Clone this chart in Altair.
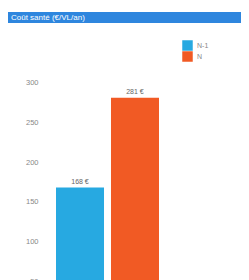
import altair as alt
import pandas as pd

periods = ["N-1", "N"]
costs = [168, 281]
labels = ["168 €", "281 €"]
colors = ["#27A9E1", "#F15A24"]
title_text = "Coût santé (€/VL/an)"

df = pd.DataFrame({"period": periods, "cost": costs, "label": labels})

ymax = 340
x = alt.X("period:N", sort=periods, axis=None,
          scale=alt.Scale(paddingInner=0.127, paddingOuter=0))
y = alt.Y("cost:Q", scale=alt.Scale(domain=[0, ymax], nice=False),
          axis=alt.Axis(values=[50, 100, 150, 200, 250, 300], title=None, domain=False,
                        ticks=False, grid=False, labelColor="#888888", labelFontSize=7.5,
                        labelPadding=18, labelFont="Arial"))

bars = alt.Chart(df).mark_bar().encode(
    x=x, y=y,
    color=alt.Color("period:N", sort=periods,
                    scale=alt.Scale(domain=periods, range=colors),
                    legend=alt.Legend(title=None, orient="none", legendX=126, legendY=-11,
                                      symbolType="square", symbolSize=110, symbolStrokeWidth=0,
                                      rowPadding=0, labelFontSize=7, labelColor="#888888",
                                      labelFont="Arial", labelOffset=4)),
)

text = alt.Chart(df).mark_text(dy=-6, fontSize=7, color="#666666", font="Arial").encode(
    x=alt.X("period:N", sort=periods), y="cost:Q", text="label:N"
)

header = alt.Chart(pd.DataFrame({"t": [title_text]})).mark_rect(color="#2E86DE").encode(
    x=alt.value(-48), x2=alt.value(190), y=alt.value(-39), y2=alt.value(-28)
)
header_text = alt.Chart(pd.DataFrame({"t": [title_text]})).mark_text(
    align="left", baseline="middle", color="white", fontSize=8, font="Arial"
).encode(x=alt.value(-45), y=alt.value(-33.5), text="t:N")

chart = alt.layer(header, header_text, bars, text).properties(
    width=103, height=270,
    padding={"left": 48, "top": 43, "right": 82, "bottom": 0},
    autosize=alt.AutoSizeParams(type="none"),
).configure_view(strokeWidth=0)

chart.save("out.html", embed_options={"renderer": "svg", "actions": False})
